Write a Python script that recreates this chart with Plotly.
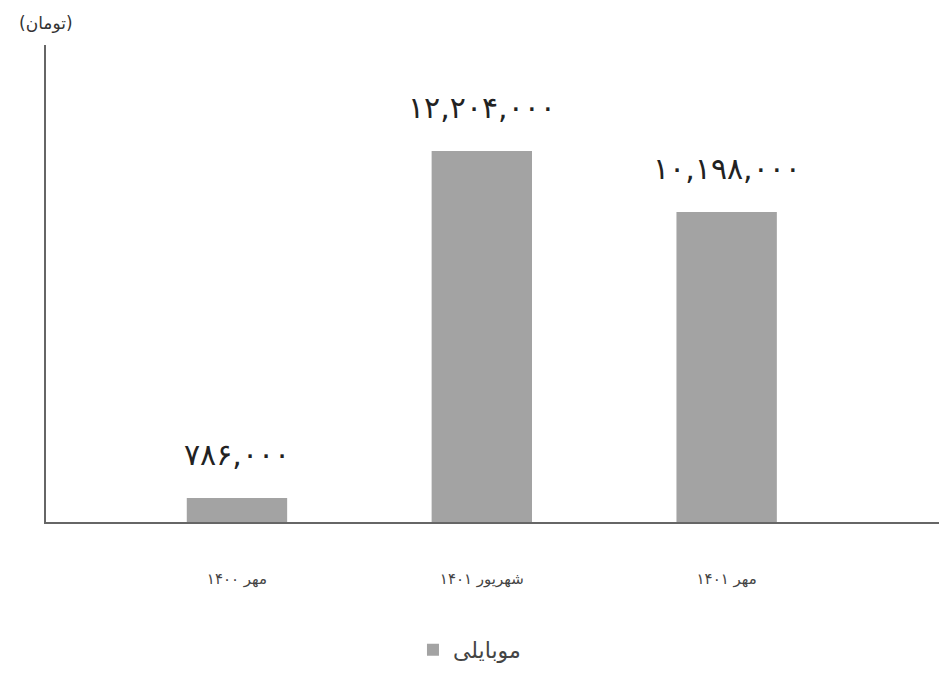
import plotly.graph_objects as go

categories = ["مهر ۱۴۰۰", "شهریور ۱۴۰۱", "مهر ۱۴۰۱"]
values = [786000, 12204000, 10198000]
series_name = "موبایلی"
unit_label = "(تومان)"

PERSIAN = str.maketrans("0123456789", "۰۱۲۳۴۵۶۷۸۹")


def fa(n):
    return f"{n:,}".translate(PERSIAN)


FONT = "DejaVu Sans, sans-serif"

fig = go.Figure()
fig.add_trace(go.Bar(
    x=categories, y=values, name=series_name,
    marker=dict(color="#a3a3a3", line=dict(width=0)),
    width=0.41, showlegend=True,
))

for c, v in zip(categories, values):
    fig.add_annotation(x=c, y=v, text=fa(v), showarrow=False,
                       xanchor="center", yanchor="bottom", yshift=24,
                       font=dict(family=FONT, size=30, color="#222222"))

fig.add_annotation(xref="paper", yref="paper", x=0, y=1, text=unit_label,
                   showarrow=False, xanchor="center", yanchor="bottom", yshift=10,
                   font=dict(family=FONT, size=17, color="#333333"))

fig.update_layout(
    width=939, height=672,
    margin=dict(l=38, r=0, t=37, b=158, autoexpand=False),
    paper_bgcolor="white", plot_bgcolor="white",
    font=dict(family=FONT, color="#444444"),
    bargap=0.5,
    legend=dict(orientation="h", x=0.47, xanchor="center", y=-0.268, yanchor="middle",
                font=dict(family=FONT, size=22, color="#444444")),
    xaxis=dict(range=[-0.78, 2.9], showline=True, linecolor="#666666", linewidth=2,
               showgrid=False, zeroline=False, ticks="",
               tickfont=dict(family=FONT, size=15, color="#444444"),
               ticklabelstandoff=42),
    yaxis=dict(range=[0, 15690000], showline=True, linecolor="#666666", linewidth=1.5,
               showgrid=False, zeroline=False, showticklabels=False, ticks=""),
)

fig.write_html("out.html")
